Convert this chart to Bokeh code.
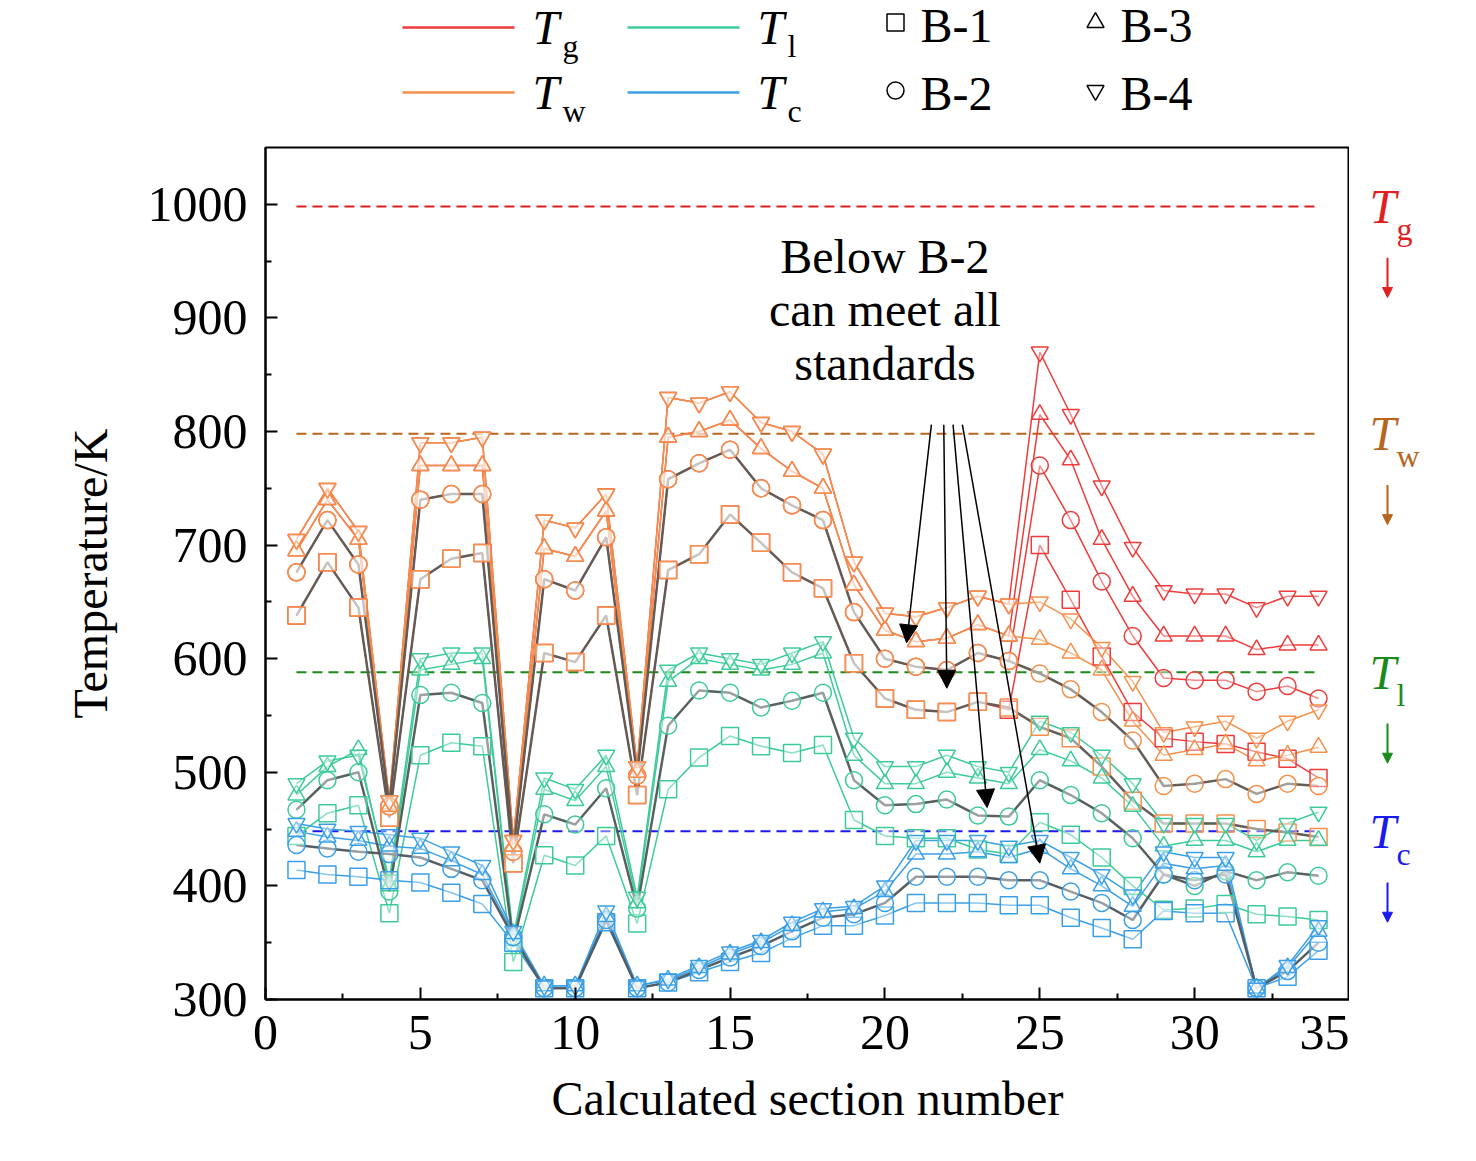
from bokeh.plotting import figure
from bokeh.models import Label, Arrow, NormalHead, Range1d, FixedTicker
from bokeh.layouts import column, row
from bokeh.embed import file_html
from bokeh.resources import INLINE

sections = list(range(1, 35))

tw_b1 = [638,685,645,460,670,688,693,420,605,597,638,480,678,692,727,702,676,662,596,565,555,553,562,557,540,530,505,475,455,455,455,450,447,443]
tg_b1 = [638,685,645,460,670,688,693,420,605,597,638,480,678,692,727,702,676,662,596,565,555,553,562,555,700,652,602,553,530,527,525,518,512,495]
tw_b2 = [676,722,683,470,740,745,745,430,670,660,707,497,758,772,784,750,735,722,641,600,593,590,605,598,587,573,553,528,488,490,494,481,490,488]
tg_b2 = [676,722,683,470,740,745,745,430,670,660,707,497,758,772,784,750,735,722,641,600,593,590,605,598,770,722,668,620,583,581,581,571,576,565]
tw_b3 = [695,740,705,470,770,770,770,435,697,690,730,500,795,800,810,785,765,750,665,625,615,618,630,620,617,605,590,545,515,520,525,510,515,522]
tg_b3 = [695,740,705,470,770,770,770,435,697,690,730,500,795,800,810,785,765,750,665,625,615,618,630,620,815,775,705,655,620,620,620,608,612,612]
tw_b4 = [705,750,712,475,790,790,795,440,722,715,745,505,830,825,835,808,800,780,685,640,637,645,655,648,650,635,610,580,535,540,545,530,545,555]
tg_b4 = [705,750,712,475,790,790,795,440,722,715,745,505,830,825,835,808,800,780,685,640,637,645,655,648,870,815,752,698,660,657,657,645,655,655]

tl_b1 = [444,464,471,376,515,526,523,333,427,418,444,367,485,513,532,523,517,524,458,444,442,442,432,428,456,445,425,400,379,380,384,375,373,370]
tl_b2 = [467,493,500,395,568,570,561,350,463,454,486,380,541,572,570,557,563,570,493,471,472,476,462,461,493,480,464,442,410,400,413,405,412,409]
tl_b3 = [480,505,520,400,590,595,600,352,485,475,505,385,580,600,595,590,595,605,515,490,490,500,495,490,520,510,495,470,435,440,440,430,440,440]
tl_b4 = [490,510,515,405,600,605,605,355,495,485,515,390,590,605,600,595,605,615,530,505,505,515,505,500,545,535,515,490,455,455,455,440,455,465]

tc_b1 = [414,410,408,405,403,394,384,350,310,310,368,310,315,324,333,341,354,365,365,374,385,385,385,383,383,372,363,353,378,376,376,310,320,343]
tc_b2 = [436,433,430,428,425,415,405,355,310,310,370,310,315,326,337,347,360,372,375,385,408,408,408,405,405,395,385,370,410,405,410,310,325,350]
tc_b3 = [448,443,440,435,433,422,410,358,312,312,373,312,317,328,340,350,365,377,380,395,428,428,430,425,433,415,400,382,420,415,418,310,328,360]
tc_b4 = [455,450,448,445,442,430,418,360,312,312,378,312,318,330,342,352,368,380,382,400,440,440,440,435,440,425,410,392,430,425,425,310,330,365]

limit_vals = [998, 798, 588, 448]
limit_subs = ["g", "w", "l", "c"]

RED = "#ee3b3b"; ORANGE = "#f5904a"; GREEN = "#3ccb98"; BLUE = "#3a9fe6"; GRAY = "#555555"
LIMC = ["#e02020", "#b5651d", "#1a8a1a", "#1a1aee"]
FONT = "Liberation Serif"
MARK = ["square", "circle", "triangle", "inverted_triangle"]

yr = Range1d(300, 1050)
p = figure(frame_width=1084, frame_height=852, x_range=Range1d(0, 35), y_range=yr,
           output_backend="svg", toolbar_location=None,
           min_border_left=265, min_border_right=0, min_border_top=7, min_border_bottom=146)
p.grid.visible = False
p.outline_line_color = "black"; p.outline_line_width = 2
for ax in (p.xaxis[0], p.yaxis[0]):
    ax.axis_line_width = 2
    ax.major_tick_in = 12; ax.major_tick_out = 0
    ax.minor_tick_in = 6; ax.minor_tick_out = 0
    ax.major_tick_line_width = 2; ax.minor_tick_line_width = 2
    ax.major_label_text_font = FONT; ax.major_label_text_font_size = "50px"
    ax.major_label_text_color = "black"
    ax.axis_label_text_font = FONT; ax.axis_label_text_font_size = "48px"
    ax.axis_label_text_font_style = "normal"; ax.axis_label_text_color = "black"
p.xaxis.major_label_standoff = 16
p.yaxis.major_label_standoff = 18
p.xaxis.axis_label_standoff = 20
p.yaxis.axis_label_standoff = 28
p.xaxis.ticker = FixedTicker(ticks=[0,5,10,15,20,25,30,35], minor_ticks=[2.5+5*i for i in range(7)])
p.yaxis.ticker = FixedTicker(ticks=list(range(300,1001,100)), minor_ticks=list(range(350,1050,100)))
p.xaxis.axis_label = "Calculated section number"
p.yaxis.axis_label = "Temperature/K"

for val, col in zip(limit_vals, LIMC):
    p.segment(x0=[1], x1=[34], y0=[val], y1=[val], line_color=col, line_width=2, line_dash="10 6")

groups = [
    (RED, [tg_b1, tg_b2, tg_b3, tg_b4]),
    (ORANGE, [tw_b1, tw_b2, tw_b3, tw_b4]),
    (GREEN, [tl_b1, tl_b2, tl_b3, tl_b4]),
    (BLUE, [tc_b1, tc_b2, tc_b3, tc_b4]),
]
for col, series in groups:
    for ys in series:
        p.line(sections, ys, line_color=col, line_width=1.5)
for ys in (tw_b1, tw_b2, tl_b2, tc_b2):
    p.line(sections, ys, line_color=GRAY, line_width=2.5, line_alpha=0.9)
for col, series in groups:
    for m, ys in zip(MARK, series):
        p.scatter(sections, ys, marker=m, size=17, line_color=col, line_width=1.5,
                  fill_color="white", fill_alpha=0.4)

for i, t in enumerate(["Below B-2", "can meet all", "standards"]):
    p.add_layout(Label(x=20.0, y=954 - 47*i, text=t, text_font=FONT, text_font_size="48px",
                       text_align="center", text_baseline="middle", text_color="black"))
for (xs, xe, ye) in [(21.5, 20.7, 614), (21.9, 22.0, 574), (22.2, 23.3, 469), (22.5, 25.0, 420)]:
    p.add_layout(Arrow(x_start=xs, y_start=806, x_end=xe, y_end=ye, line_width=1.5,
                       end=NormalHead(size=18, fill_color="black", line_color="black")))

# right-side labels figure
rf = figure(frame_width=109, frame_height=852, x_range=Range1d(0, 109), y_range=yr,
            output_backend="svg", toolbar_location=None, x_axis_location=None, y_axis_location=None,
            min_border_left=0, min_border_right=0, min_border_top=7, min_border_bottom=146)
rf.grid.visible = False; rf.outline_line_color = None
for val, sub, col in zip(limit_vals, limit_subs, LIMC):
    rf.add_layout(Label(x=20, y=val, text="T", text_font=FONT, text_font_size="48px",
                        text_font_style="italic", text_color=col, text_baseline="middle"))
    rf.add_layout(Label(x=47, y=val - 20, text=sub, text_font=FONT, text_font_size="32px",
                        text_color=col, text_baseline="middle"))
    rf.add_layout(Arrow(x_start=38, y_start=val - 45, x_end=38, y_end=val - 80, line_color=col,
                        line_width=2, end=NormalHead(size=10, fill_color=col, line_color=col)))

# legend figure
lg = figure(frame_width=1460, frame_height=140, x_range=Range1d(0, 1460), y_range=Range1d(140, 0),
            output_backend="svg", toolbar_location=None, x_axis_location=None, y_axis_location=None,
            min_border=0)
lg.grid.visible = False; lg.outline_line_color = None
for (x0, y, col, sub) in [(402, 27, RED, "g"), (402, 92, ORANGE, "w"), (627, 27, GREEN, "l"), (627, 92, BLUE, "c")]:
    lg.segment(x0=[x0], x1=[x0 + 112], y0=[y], y1=[y], line_color=col, line_width=2.5)
    lg.add_layout(Label(x=x0 + 130, y=y, text="T", text_font=FONT, text_font_size="48px",
                        text_font_style="italic", text_baseline="middle", text_color="black"))
    lg.add_layout(Label(x=x0 + 160, y=y + 18, text=sub, text_font=FONT, text_font_size="32px",
                        text_baseline="middle", text_color="black"))
for (x0, y, m, t) in [(895, 22, "square", "B-1"), (895, 90, "circle", "B-2"),
                      (1095, 22, "triangle", "B-3"), (1095, 90, "inverted_triangle", "B-4")]:
    lg.scatter([x0], [y], marker=m, size=17, line_color="black", line_width=1.5, fill_color="white")
    lg.add_layout(Label(x=x0 + 25, y=y + 3, text=t, text_font=FONT, text_font_size="48px",
                        text_baseline="middle", text_color="black"))

page = column(lg, row(p, rf, spacing=0), spacing=0)
open("out.html", "w").write(file_html(page, INLINE))
